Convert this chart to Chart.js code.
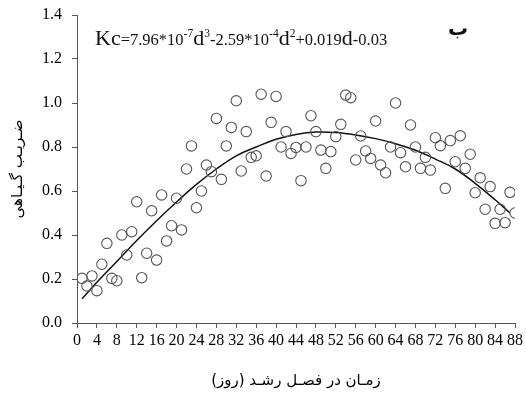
<!DOCTYPE html>
<html><head><meta charset="utf-8">
<script src="https://cdn.jsdelivr.net/npm/chart.js@4/dist/chart.umd.min.js"></script>
<style>
html,body{margin:0;padding:0;background:#fff;}
#wrap{position:relative;width:526px;height:396px;}
#eq{position:absolute;left:95px;top:27px;font-family:"Liberation Serif",serif;white-space:nowrap;color:#111;line-height:1;}
#eq .b{font-size:22px;}
#eq .s{font-size:16.5px;}
#eq sup{font-size:11.5px;vertical-align:8px;}
#lbl{position:absolute;left:448px;top:18px;font-family:"DejaVu Sans",sans-serif;font-weight:bold;font-size:20px;color:#111;line-height:1;}
</style></head><body>
<div id="wrap"><canvas id="c" width="526" height="396"></canvas>
<div id="eq"><span class="b">Kc</span><span class="s">=7.96*10<sup>-7</sup></span><span class="b">d</span><sup>3</sup><span class="s">-2.59*10<sup>-4</sup></span><span class="b">d</span><sup>2</sup><span class="s">+0.019</span><span class="b">d</span><span class="s">-0.03</span></div>
<div id="lbl">ب</div></div>
<script>
const days = [1,2,3,4,5,6,7,8,9,10,11,12,13,14,15,16,17,18,19,20,21,22,23,24,25,26,27,28,29,30,31,32,33,34,35,36,37,38,39,40,41,42,43,44,45,46,47,48,49,50,51,52,53,54,55,56,57,58,59,60,61,62,63,64,65,66,67,68,69,70,71,72,73,74,75,76,77,78,79,80,81,82,83,84,85,86,87,88];
const kc = [0.203,0.168,0.214,0.147,0.267,0.362,0.203,0.192,0.40,0.309,0.415,0.551,0.206,0.317,0.51,0.286,0.582,0.373,0.442,0.567,0.423,0.70,0.805,0.524,0.60,0.718,0.688,0.93,0.653,0.805,0.889,1.01,0.691,0.87,0.753,0.76,1.04,0.668,0.912,1.03,0.80,0.87,0.771,0.798,0.647,0.80,0.942,0.87,0.786,0.703,0.779,0.847,0.903,1.036,1.024,0.741,0.85,0.782,0.748,0.918,0.718,0.683,0.80,1.0,0.774,0.71,0.90,0.80,0.703,0.753,0.695,0.842,0.806,0.612,0.829,0.733,0.851,0.703,0.767,0.592,0.66,0.517,0.62,0.453,0.517,0.456,0.594,0.50];
const trendDays = [1,4,8,12,16,20,24,28,32,36,40,44,48,52,56,60,64,68,72,76,80,84,87];
const trendKc = [0.11,0.185,0.28,0.375,0.465,0.55,0.63,0.70,0.76,0.80,0.835,0.857,0.868,0.866,0.855,0.838,0.815,0.785,0.745,0.70,0.635,0.56,0.50];
const xTitle = 'زمـان در فصـل رشـد (روز)';
const yTitle = 'ضـریـب گـیـاهی';

new Chart(document.getElementById('c'), {
  type: 'scatter',
  data: { datasets: [
    { data: days.map((d,i)=>({x:d,y:kc[i]})), pointRadius:5.2, pointBorderColor:'#555', pointBackgroundColor:'rgba(0,0,0,0)', pointBorderWidth:1.1, showLine:false },
    { data: trendDays.map((d,i)=>({x:d,y:trendKc[i]})), showLine:true, borderColor:'#111', borderWidth:1.5, pointRadius:0, tension:0.4, fill:false }
  ]},
  options: {
    responsive:false, animation:false,
    plugins:{legend:{display:false}, tooltip:{enabled:false}},
    layout:{padding:{top:15,right:10,left:0,bottom:0}},
    scales:{
      x:{type:'linear', min:0, max:88,
        ticks:{stepSize:4, autoSkip:false, maxRotation:0, color:'#000', font:{family:'Liberation Serif', size:16}, padding:3},
        grid:{drawOnChartArea:false, drawTicks:true, tickLength:5, color:'#555'},
        border:{color:'#555', width:1},
        title:{display:true, text:xTitle, font:{family:'DejaVu Sans', size:15}, color:'#000', padding:{top:18,bottom:6}},
        afterFit: s=>{ s.height = 73; }
      },
      y:{min:0, max:1.4,
        ticks:{stepSize:0.2, callback:v=>v.toFixed(1), color:'#000', font:{family:'Liberation Serif', size:16, lineHeight:0.5}, padding:10},
        grid:{drawOnChartArea:false, drawTicks:true, tickLength:5, color:'#555'},
        border:{color:'#555', width:1},
        title:{display:true, text:yTitle, font:{family:'DejaVu Sans', size:15}, color:'#000', padding:{top:9,bottom:0}},
        afterFit: s=>{ s.width = 77; }
      }
    }
  }
});
</script>
</body></html>
